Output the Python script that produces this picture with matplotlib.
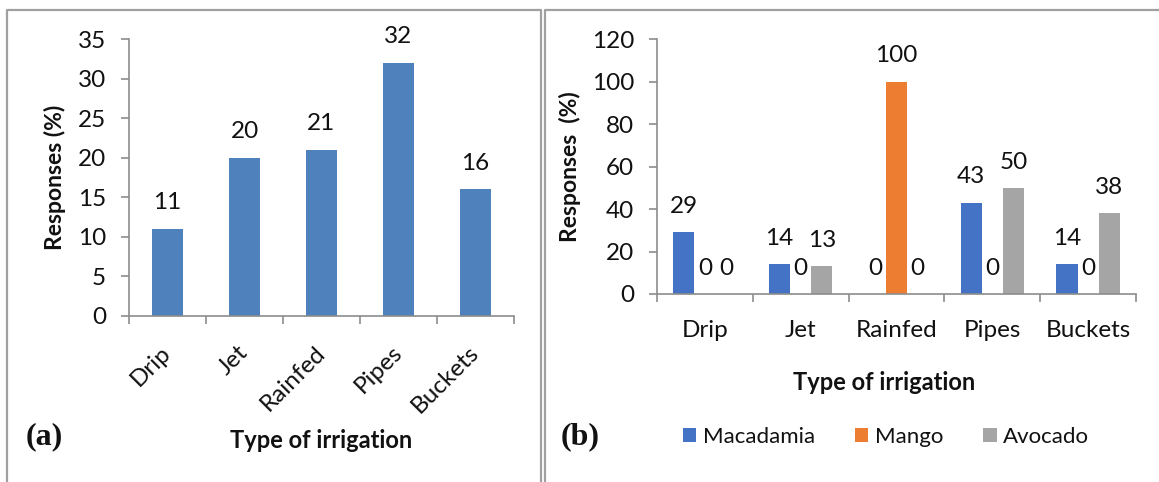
import numpy as np
import matplotlib
matplotlib.use("Agg")
import matplotlib.pyplot as plt
from matplotlib.lines import Line2D

plt.rcParams['font.family'] = ['Lato', 'DejaVu Sans']

# irrigation types and response shares (%)
methods = ['Drip', 'Jet', 'Rainfed', 'Pipes', 'Buckets']
overall = [11, 20, 21, 32, 16]

crops = ['Macadamia', 'Mango', 'Avocado']
macadamia = [29, 14, 0, 43, 14]
mango = [0, 0, 100, 0, 0]
avocado = [0, 13, 0, 50, 38]

AXIS_GREY = '#8c8c8c'
TEXT = '#111111'
W, H = 1159, 482
FS = 17.5


def style_axis(ax, ymax, ystep):
    for side in ['top', 'right']:
        ax.spines[side].set_visible(False)
    for side in ['left', 'bottom']:
        ax.spines[side].set_color(AXIS_GREY)
        ax.spines[side].set_linewidth(1.2)
    ax.set_ylim(0, ymax)
    ax.set_yticks(np.arange(0, ymax + 1, ystep))
    ax.set_xlim(-0.5, len(methods) - 0.5)
    # boundary ticks between categories, labels at the centres
    ax.set_xticks(np.arange(-0.5, len(methods)), labels=[''] * (len(methods) + 1))
    ax.set_xticks(np.arange(len(methods)), minor=True)
    ax.tick_params(axis='x', which='major', direction='out', length=5.5,
                   width=1.2, color=AXIS_GREY)
    ax.tick_params(axis='y', direction='out', length=5.5, width=1.2, pad=11,
                   color=AXIS_GREY, labelsize=FS, labelcolor=TEXT)
    ax.set_facecolor('none')


fig = plt.figure(figsize=(W / 100, H / 100), dpi=100)

# panel frames
for x0, x1 in [(7, 541), (545, 1162)]:
    xs = [x0 / W, x0 / W, x1 / W, x1 / W]
    ys = [-0.05, 1 - 10 / H, 1 - 10 / H, -0.05]
    fig.add_artist(Line2D(xs, ys, color='#a0a0a0', lw=1.6,
                          transform=fig.transFigure))

# (a) all crops together
ax1 = fig.add_axes([129 / W, 1 - 316 / H, 385 / W, 277 / H])
style_axis(ax1, 35, 5)
x = np.arange(len(methods))
bars = ax1.bar(x, overall, width=0.39, color='#4F81BD')
for b, v in zip(bars, overall):
    ax1.annotate(str(v), (b.get_x() + b.get_width() / 2, v),
                 xytext=(0, 14), textcoords='offset points',
                 ha='center', va='baseline', fontsize=FS, color=TEXT)
ax1.set_xticklabels(methods, minor=True, rotation=45, ha='right',
                    va='center', rotation_mode='anchor')
ax1.tick_params(axis='x', which='minor', length=0, pad=24,
                labelsize=FS, labelcolor=TEXT)
ax1.set_ylabel('Responses (%)', fontsize=16.5, fontweight='bold', color=TEXT)
ax1.yaxis.set_label_coords(-0.192, 0.5)
ax1.yaxis.label.set_va('center')
fig.text(321 / W, 1 - 440 / H, 'Type of irrigation', ha='center', va='center',
         fontsize=17, fontweight='bold', color=TEXT)
fig.text(44 / W, 1 - 437 / H, '(a)', ha='center', va='center',
         fontsize=23, fontweight='bold', family='Liberation Serif', color=TEXT)

# (b) split by crop
ax2 = fig.add_axes([657 / W, 1 - 294 / H, 479 / W, 254.5 / H])
style_axis(ax2, 120, 20)
bw = 0.22
series = [(macadamia, '#4472C4'), (mango, '#ED7D31'), (avocado, '#A5A5A5')]
for i, ((vals, col), name) in enumerate(zip(series, crops)):
    bs = ax2.bar(x + (i - 1) * bw, vals, width=bw, color=col, label=name)
    for b, v in zip(bs, vals):
        ax2.annotate(str(v), (b.get_x() + b.get_width() / 2, v),
                     xytext=(0, 14), textcoords='offset points',
                     ha='center', va='baseline', fontsize=FS, color=TEXT)
ax2.set_xticklabels(methods, minor=True)
ax2.tick_params(axis='x', which='minor', length=0, pad=19,
                labelsize=FS, labelcolor=TEXT)
ax2.set_ylabel('Responses  (%)', fontsize=16.5, fontweight='bold', color=TEXT)
ax2.yaxis.set_label_coords(-0.182, 0.5)
ax2.yaxis.label.set_va('center')
fig.text(884 / W, 1 - 382 / H, 'Type of irrigation', ha='center', va='center',
         fontsize=17, fontweight='bold', color=TEXT)
fig.text(580 / W, 1 - 437 / H, '(b)', ha='center', va='center',
         fontsize=23, fontweight='bold', family='Liberation Serif', color=TEXT)

fig.legend(loc='center', bbox_to_anchor=(886 / W, 1 - 437 / H), ncol=3,
           frameon=False, fontsize=16, handlelength=0.6, handleheight=0.6,
           handletextpad=0.3, columnspacing=1.8, labelcolor=TEXT)

fig.savefig('out.png', dpi=100, facecolor='white')
